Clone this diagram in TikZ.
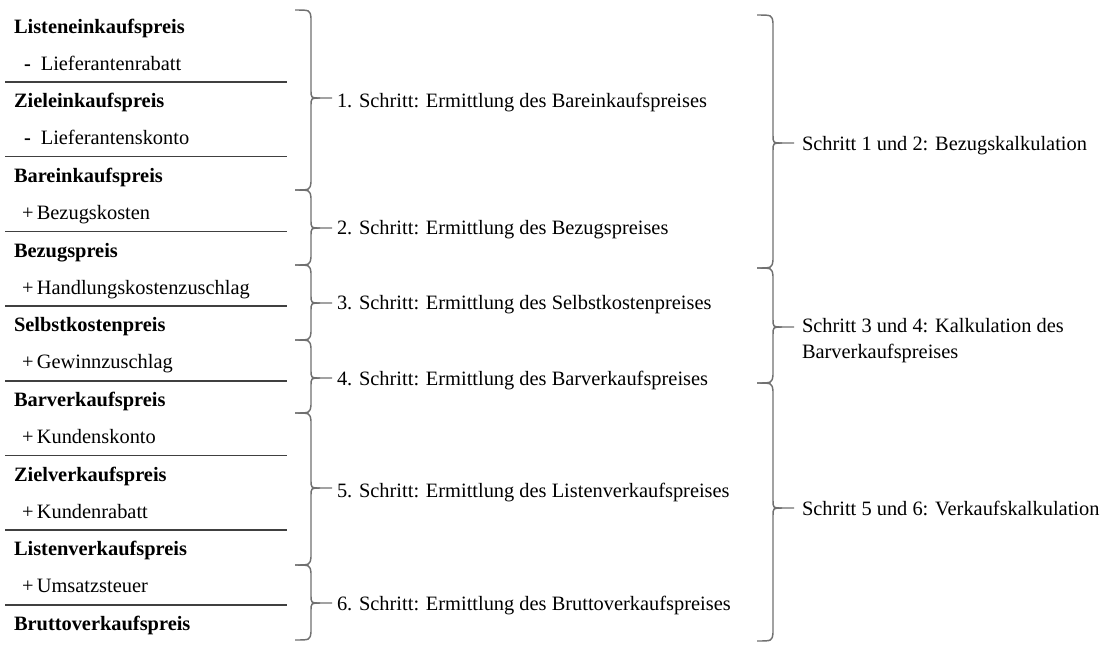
\documentclass[tikz,border=0pt]{standalone}
\usepackage{fontspec}
\setmainfont{Liberation Serif}
\definecolor{bracegray}{HTML}{707070}
\definecolor{rulegray}{HTML}{404040}
\newcommand\mybrace[4]{%
  \draw[bracestyle] (#1,#2) .. controls ({#1+15},#2) .. ({#1+16},{#2+8}) -- ({#1+16},{#3-8})
     .. controls ({#1+16},#3) .. ({#1+25},#3) -- ({#1+37},#3);
  \draw[bracestyle] ({#1+25},#3) .. controls ({#1+16},#3) .. ({#1+16},{#3+8}) -- ({#1+16},{#4-8})
     .. controls ({#1+15},#4) .. (#1,#4);}
\begin{document}
\begin{tikzpicture}[x=0.75pt,y=-0.75pt,
  every node/.style={inner sep=0pt,outer sep=0pt,font=\fontsize{15.3}{19.5}\selectfont},
  price/.style={anchor=base west,font=\fontsize{15.3}{19.5}\selectfont\bfseries},
  change/.style={anchor=base west},
  steptext/.style={anchor=base west},
  grouptext/.style={anchor=base west,align=left},
  rulestyle/.style={draw=rulegray,line width=1.1pt},
  bracestyle/.style={draw=bracegray,line width=1.1pt}]
\useasboundingbox (0,0) rectangle (1103,644);

% price column
\node[price] (p0) at (14,33) {Listeneinkaufspreis};
\node[change] (c0) at (24,70) {\textbf{-}\hspace{7.5pt}Lieferantenrabatt};
\node[price] (p1) at (14,107.7) {Zieleinkaufspreis};
\node[change] (c1) at (24,144.7) {\textbf{-}\hspace{7.5pt}Lieferantenskonto};
\node[price] (p2) at (14,182.4) {Bareinkaufspreis};
\node[change] (c2) at (22,219.4) {+\hspace{2.5pt}Bezugskosten};
\node[price] (p3) at (14,257.1) {Bezugspreis};
\node[change] (c3) at (22,294.1) {+\hspace{2.5pt}Handlungskostenzuschlag};
\node[price] (p4) at (14,331.8) {Selbstkostenpreis};
\node[change] (c4) at (22,368.8) {+\hspace{2.5pt}Gewinnzuschlag};
\node[price] (p5) at (14,406.5) {Barverkaufspreis};
\node[change] (c5) at (22,443.5) {+\hspace{2.5pt}Kundenskonto};
\node[price] (p6) at (14,481.2) {Zielverkaufspreis};
\node[change] (c6) at (22,518.2) {+\hspace{2.5pt}Kundenrabatt};
\node[price] (p7) at (14,555.9) {Listenverkaufspreis};
\node[change] (c7) at (22,592.9) {+\hspace{2.5pt}Umsatzsteuer};
\node[price] (p8) at (14,630.6) {Bruttoverkaufspreis};

% rules
\foreach \k in {0,...,7}{
  \draw[rulestyle] (5,{82+74.7*\k}) -- (287,{82+74.7*\k});
}

% step braces
\mybrace{295}{10}{98}{190}
\mybrace{295}{190}{228}{265}
\mybrace{295}{265}{303}{340}
\mybrace{295}{340}{378}{413}
\mybrace{295}{413}{488}{565}
\mybrace{295}{565}{603}{640}

\node[steptext] (s1) at (337,107) {1. Schritt: Ermittlung des Bareinkaufspreises};
\node[steptext] (s2) at (337,234) {2. Schritt: Ermittlung des Bezugspreises};
\node[steptext] (s3) at (337,309) {3. Schritt: Ermittlung des Selbstkostenpreises};
\node[steptext] (s4) at (337,385) {4. Schritt: Ermittlung des Barverkaufspreises};
\node[steptext] (s5) at (337,497) {5. Schritt: Ermittlung des Listenverkaufspreises};
\node[steptext] (s6) at (337,610) {6. Schritt: Ermittlung des Bruttoverkaufspreises};

% group braces
\mybrace{757}{15}{143}{268}
\mybrace{757}{268}{327}{383}
\mybrace{757}{383}{508}{641}

\node[grouptext] (g1) at (802,150) {Schritt 1 und 2: Bezugskalkulation};
\node[grouptext] (g2) at (802,358) {Schritt 3 und 4: Kalkulation des\\Barverkaufspreises};
\node[grouptext] (g3) at (802,515) {Schritt 5 und 6: Verkaufskalkulation};
\end{tikzpicture}
\end{document}
